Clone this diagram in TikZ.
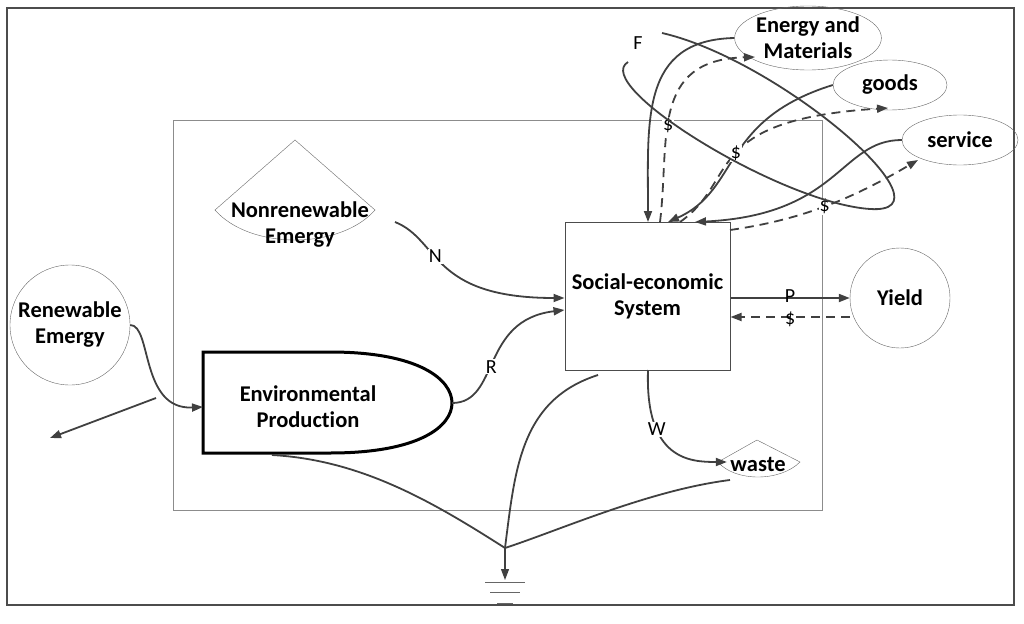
\documentclass[tikz,border=0pt]{standalone}
\usepackage{fontspec}
\setmainfont{Carlito}[RawFeature=-liga]
\usetikzlibrary{arrows.meta,shapes.geometric}
\begin{document}
\begin{tikzpicture}[x=1pt,y=-1pt,
  ln/.style={draw=black!75,line width=1.8pt},
  ar/.style={ln,-{Triangle[length=11pt,width=8pt]}},
  da/.style={ar,dash pattern=on 9pt off 6pt},
  lab/.style={font=\fontsize{22.5}{26}\selectfont\bfseries,align=center},
  sm/.style={font=\fontsize{20}{22}\selectfont,fill=white,inner sep=1pt}]
\useasboundingbox (0,0) rectangle (1024,623);
\draw[black!70,line width=1.2pt] (7,8) rectangle (1014,605);
\draw[black!45,line width=1pt] (173,120) rectangle (822,510);
% shapes
\draw[black!60] (295,140) -- (215,210) .. controls (250,250) and (340,250) .. (375,210) -- cycle;
\node[lab] (nr) at (300,225) {Nonrenewable\\Emergy};
\draw[black!60] (757,440) -- (718,462) .. controls (735,482) and (780,482) .. (800,462) -- cycle;
\node[lab] (wa) at (758,464) {waste};
\node[draw=black!60,circle,minimum size=120pt,lab,inner sep=0pt] (re) at (70,325) {Renewable\\Emergy};
\draw[line width=3pt] (203,352) -- (330,352) .. controls (420,352) and (452,380) .. (452,403) .. controls (452,426) and (420,453) .. (330,453) -- (203,453) -- cycle;
\coordinate (envL) at (203,407);
\coordinate (envR) at (452,403);
\coordinate (envB) at (272,455);
\node[lab] (env) at (308,407) {Environmental\\Production};
\node[draw=black!70,line width=1pt,minimum width=165pt,minimum height=148pt,lab] (se) at (647.5,296) {Social-economic\\System};
\node[draw=black!60,circle,minimum size=100pt,lab] (yi) at (900,298) {Yield};
\node[draw=black!60,ellipse,minimum width=140pt,minimum height=64pt,lab,inner sep=0pt] (em) at (808,38) {Energy and\\Materials};
\node[draw=black!60,ellipse,minimum width=114pt,minimum height=50pt,lab,inner sep=0pt] (go) at (890,85) {goods};
\node[draw=black!60,ellipse,minimum width=116pt,minimum height=50pt,lab,inner sep=0pt] (sv) at (960,140) {service};
% ground
\coordinate (gj) at (505,548);
\coordinate (gg) at (505,580);
\draw[ar,line width=1.2pt] (gj) -- (gg);
\draw[black!60] (485,582) -- (525,582) (490,592) -- (520,592) (497,603) -- (513,603);
\draw[ln] (envB) .. controls (360,460) and (430,500) .. (gj);
\draw[ln] (598,375) .. controls (520,400) and (515,470) .. (gj);
\draw[ln] (730,480) .. controls (650,490) and (560,530) .. (gj);
% renewable
\coordinate (rbr) at (156,398);
\coordinate (out) at (50,438);
\draw[ar] (re.east) .. controls (152,325) and (140,410) .. (envL);
\draw[ar] (rbr) -- (out);
% N, R
\draw[ar] (395,222) .. controls (440,240) and (430,298) .. (se.west |- 0,298) node[sm,pos=0.4] {N};
\draw[ar] (envR) .. controls (500,403) and (480,320) .. (se.west |- 0,310) node[sm,pos=0.45] {R};
% P / $
\draw[ar] (se.east |- 0,298) -- (yi.west) node[sm,midway,fill=none,above=-6pt] {P};
\draw[da] (yi.west |- 0,317) -- (se.east |- 0,317) node[sm,midway,fill=none,below=-7pt] {\$};
% W
\draw[ar] (648,370) .. controls (645,460) and (690,462) .. (wa.west |- 0,462) node[sm,pos=0.3] {W};
% top flows
\draw[ar] (em.west) .. controls (640,40) and (648,120) .. (648,222);
\draw[da] (660,222) .. controls (670,140) and (650,60) .. (755,57) node[sm,pos=0.42] {\$};
\draw[ar] (go.west) .. controls (720,120) and (740,190) .. (668,222);
\draw[da] (680,222) .. controls (740,180) and (700,120) .. (888,108) node[sm,pos=0.5] {\$};
\draw[ar] (sv.west) .. controls (840,140) and (840,215) .. (695,222);
\draw[da] (730,230) .. controls (800,220) and (850,200) .. (918,160) node[sm,pos=0.5] {\$};
% F
\draw[ln] (662,33) .. controls (780,60) and (960,215) .. (870,209) .. controls (780,203) and (590,85) .. (628,62);
\node[sm,fill=none] (F) at (638,43) {F};
\end{tikzpicture}
\end{document}
